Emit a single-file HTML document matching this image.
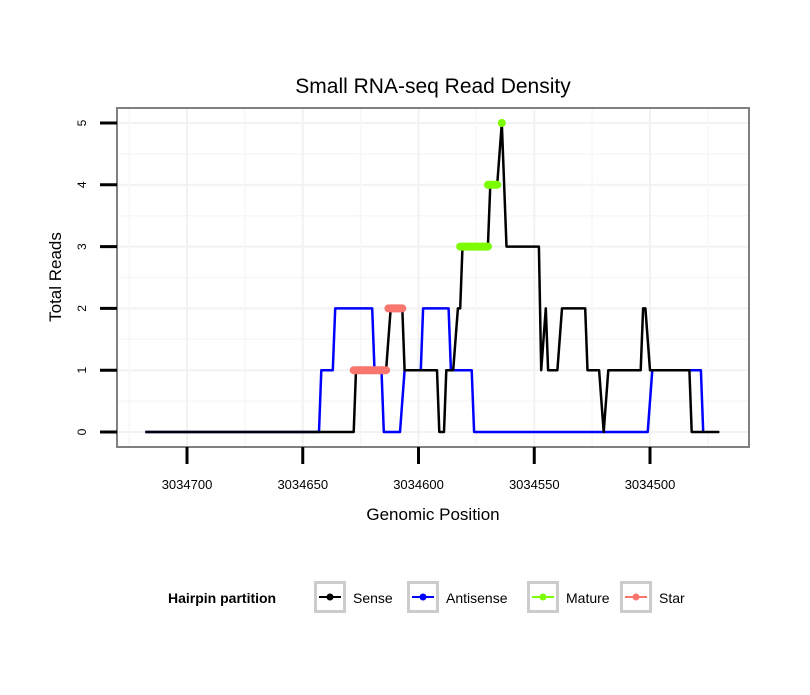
<!DOCTYPE html>
<html><head><meta charset="utf-8"><style>
body{margin:0;background:#fff}
svg text{font-family:"Liberation Sans",Arial,sans-serif}
</style></head><body>
<svg id="chart" width="810" height="690" viewBox="0 0 810 690" xmlns="http://www.w3.org/2000/svg">
<rect width="810" height="690" fill="#fff"/>
<text x="433" y="93" font-size="21" text-anchor="middle">Small RNA-seq Read Density</text>
<g id="grid"></g>
<g id="series"></g>
<rect x="117" y="108" width="632" height="339" fill="none" stroke="#808080" stroke-width="2"/>
<g id="axes"></g>
<text x="433" y="520" font-size="17" text-anchor="middle">Genomic Position</text>
<text transform="translate(61,277) rotate(-90)" font-size="17" text-anchor="middle">Total Reads</text>
<g id="legend">
<text x="168" y="603" font-size="14" font-weight="bold">Hairpin partition</text>
</g>
</svg>
<script>
const xTicks=[3034700,3034650,3034600,3034550,3034500];
const yTicks=[0,1,2,3,4,5];
const senseVerts=[[3034718,0],[3034628,0],[3034627,1],[3034614,1],[3034612,2],[3034607,2],[3034606,1],[3034592,1],[3034591,0],[3034589,0],[3034588,1],[3034585,1],[3034583,2],[3034582,2],[3034581,3],[3034570,3],[3034569,4],[3034566,4],[3034564,5],[3034562,3],[3034548,3],[3034547,1],[3034545,2],[3034544,1],[3034540,1],[3034538,2],[3034528,2],[3034527,1],[3034522,1],[3034520,0],[3034518,1],[3034504,1],[3034503,2],[3034502,2],[3034500,1],[3034483,1],[3034482,0],[3034470,0]];
const antisenseVerts=[[3034718,0],[3034643,0],[3034642,1],[3034637,1],[3034636,2],[3034620,2],[3034619,1],[3034616,1],[3034615,0],[3034608,0],[3034606,1],[3034599,1],[3034598,2],[3034587,2],[3034586,1],[3034577,1],[3034576,0],[3034501,0],[3034499,1],[3034478,1],[3034477,0]];
const matureRuns=[[3034582,3034570,3],[3034570,3034566,4],[3034564,3034564,5]];
const starRuns=[[3034628,3034614,1],[3034613,3034607,2]];
const NS="http://www.w3.org/2000/svg";
function X(p){return 187+(3034700-p)*2.315;}
function Y(v){return 432-v*61.8;}
function mk(tag,attrs,parent){const e=document.createElementNS(NS,tag);for(const k in attrs)e.setAttribute(k,attrs[k]);parent.appendChild(e);return e;}
const grid=document.getElementById('grid'),axes=document.getElementById('axes'),series=document.getElementById('series'),legend=document.getElementById('legend');
// grid
for(let i=0;i<yTicks.length;i++){const v=yTicks[i];
 const l=mk('line',{x1:117,x2:749,y1:Y(v),y2:Y(v),stroke:'#f2f2f2','stroke-width':2},grid);
 
 
 if(i<yTicks.length-1){const m=mk('line',{x1:117,x2:749,y1:Y(v+0.5),y2:Y(v+0.5),stroke:'#f7f7f7','stroke-width':1.5},grid);
 
 }
}
for(let i=-1;i<xTicks.length+1;i++){const p=xTicks[0]-50*i;
 if(i>=0&&i<xTicks.length){const l=mk('line',{x1:X(p),x2:X(p),y1:108,y2:447,stroke:'#f2f2f2','stroke-width':2},grid);
 
 }
 const mx=X(p-25);if(mx>117&&mx<749){const m=mk('line',{x1:mx,x2:mx,y1:108,y2:447,stroke:'#f7f7f7','stroke-width':1.5},grid);
 
 }
}
// axes
yTicks.forEach(v=>{const t=mk('line',{x1:100,x2:117,y1:Y(v),y2:Y(v),stroke:'#000','stroke-width':3},axes);
 
 
 const tx=mk('text',{transform:`translate(86,${Y(v)}) rotate(-90)`,'font-size':12,'text-anchor':'middle'},axes);tx.textContent=v;
 
 });
xTicks.forEach(p=>{const t=mk('line',{x1:X(p),x2:X(p),y1:447,y2:464,stroke:'#000','stroke-width':3},axes);
 
 
 const tx=mk('text',{x:X(p),y:489,'font-size':13,'text-anchor':'middle'},axes);tx.textContent=p;
 
 });
// series
function path(verts,color,name){const d=verts.map((q,i)=>(i?'L':'M')+X(q[0]).toFixed(1)+','+Y(q[1]).toFixed(1)).join(' ');
 const e=mk('path',{d:d,fill:'none',stroke:color,'stroke-width':2.5,'stroke-linejoin':'round'},series);
 
 }
path(antisenseVerts,'#0000ff','antisense-line');
path(senseVerts,'#000','sense-line');
function runs(rs,color,name){rs.forEach(r=>{
 const e=mk('line',{x1:X(r[0]),x2:X(r[1]),y1:Y(r[2]),y2:Y(r[2]),stroke:color,'stroke-width':8,'stroke-linecap':'round'},series);
 
 });}
runs(starRuns,'#f8766d','star-segment');
runs(matureRuns,'#7cfc00','mature-segment');
// legend
const keys=[['Sense','#000',314],['Antisense','#0000ff',407],['Mature','#7cfc00',527],['Star','#f8766d',620]];
keys.forEach(k=>{const x=k[2];
 const b=mk('rect',{x:x+1.5,y:582.5,width:29,height:29,fill:'#fff',stroke:'#cccccc','stroke-width':3},legend);
 
 
 const l=mk('line',{x1:x+5,x2:x+27,y1:597,y2:597,stroke:k[1],'stroke-width':2},legend);
 
 
 const c=mk('circle',{cx:x+16,cy:597,r:3.5,fill:k[1]},legend);
 
 
 const t=mk('text',{x:x+39,y:603,'font-size':14},legend);t.textContent=k[0];
 
 });
</script>
</body></html>
